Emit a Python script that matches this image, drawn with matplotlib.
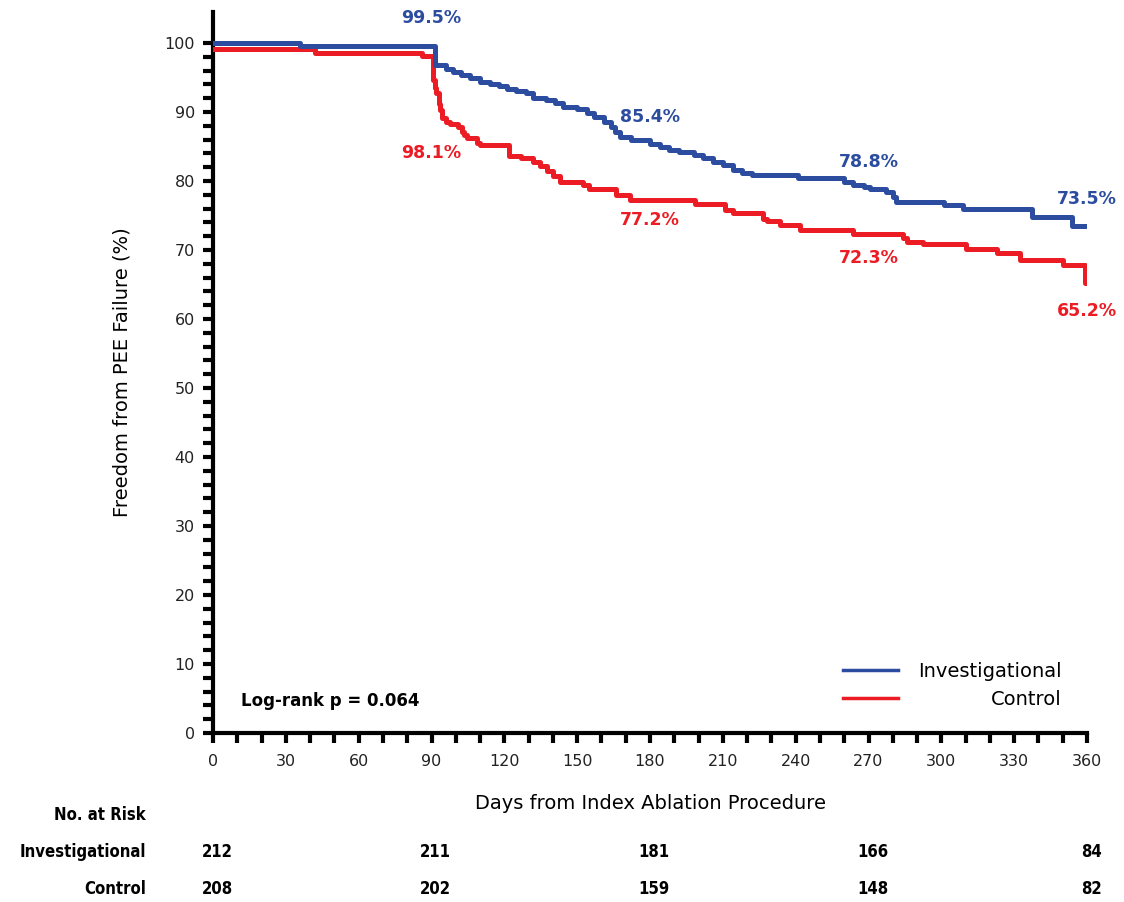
import matplotlib
matplotlib.use("agg")
import matplotlib.pyplot as plt
from matplotlib.ticker import MultipleLocator, FixedLocator

# Kaplan-Meier step data (day, % free from failure)
inv_days = [0, 36, 91.5, 96, 99, 102, 106, 110, 114, 118, 121, 125, 129, 132,
            137, 141, 144, 150, 154, 157, 161, 164, 165.5, 167.5, 172, 180,
            184, 188, 192, 198, 202, 206, 210, 214, 218, 222, 241, 260, 263.5,
            268, 270.5, 277, 280, 281.5, 301, 309, 337.5, 354, 360]
inv_surv = [100, 99.5, 96.8, 96.3, 95.8, 95.4, 94.9, 94.4, 94.1, 93.8, 93.4,
            93.1, 92.7, 92.1, 91.8, 91.3, 90.8, 90.5, 89.9, 89.3, 88.6, 87.9,
            87.1, 86.4, 86.0, 85.4, 85.0, 84.5, 84.2, 83.8, 83.3, 82.8, 82.3,
            81.6, 81.2, 80.9, 80.4, 79.9, 79.4, 79.2, 78.8, 78.4, 77.7, 77.0,
            76.5, 76.0, 74.8, 73.5, 73.5]

ctl_days = [0, 42, 86, 90.7, 91.5, 92, 93, 93.5, 94.2, 96, 97.6, 101, 102.4,
            103.5, 104.5, 108.6, 110, 122, 127, 132, 134.7, 137.4, 140.2, 143,
            152.5, 155, 166, 171.7, 198.5, 211, 214, 226.5, 228, 233.5, 241.8,
            263.7, 284.3, 285.7, 292.5, 310, 322.8, 332.4, 350.2, 359.2, 360]
ctl_surv = [99.1, 98.6, 98.1, 94.6, 93.5, 92.7, 91.2, 90.3, 89.1, 88.6, 88.2,
            87.9, 87.1, 86.6, 86.2, 85.5, 85.2, 83.6, 83.3, 82.8, 82.2, 81.5,
            80.8, 79.9, 79.4, 78.8, 78.0, 77.2, 76.7, 75.8, 75.3, 74.5, 74.2,
            73.6, 72.9, 72.3, 71.8, 71.2, 70.9, 70.2, 69.5, 68.6, 67.8, 65.2,
            65.2]

# annotated estimates at the landmark days
landmark_days = [90, 180, 270, 360]
inv_est = ["99.5%", "85.4%", "78.8%", "73.5%"]
ctl_est = ["98.1%", "77.2%", "72.3%", "65.2%"]
inv_lbl_y = [103.6, 89.3, 82.8, 77.4]
ctl_lbl_y = [84.1, 74.3, 68.8, 61.2]

# number at risk
risk_days = [0, 90, 180, 270, 360]
inv_risk = [212, 211, 181, 166, 84]
ctl_risk = [208, 202, 159, 148, 82]

blue = "#2b4c9f"
red = "#ec1c24"

fig = plt.figure(figsize=(11.24, 9.02), dpi=100)
ax = fig.add_axes([0.1895, 0.1874, 0.7776, 0.7993])

ax.step(inv_days, inv_surv, where="post", color=blue, lw=3.6, zorder=4)
ax.step(ctl_days, ctl_surv, where="post", color=red, lw=3.6, zorder=3)

for d, s, y in zip(landmark_days, inv_est, inv_lbl_y):
    ax.text(d, y, s, color=blue, fontsize=12.5, fontweight="bold",
            ha="center", va="center", clip_on=False)
for d, s, y in zip(landmark_days, ctl_est, ctl_lbl_y):
    ax.text(d, y, s, color=red, fontsize=12.5, fontweight="bold",
            ha="center", va="center", clip_on=False)

ax.set_xlim(0, 360)
ax.set_ylim(0, 104.5)
ax.xaxis.set_major_locator(MultipleLocator(30))
ax.xaxis.set_minor_locator(MultipleLocator(10))
ax.yaxis.set_major_locator(FixedLocator(range(0, 101, 10)))
ax.yaxis.set_minor_locator(FixedLocator(range(0, 101, 2)))

for side in ["top", "right"]:
    ax.spines[side].set_visible(False)
for side in ["left", "bottom"]:
    ax.spines[side].set_linewidth(3)
ax.tick_params(which="both", direction="out", length=7, width=3,
               labelsize=11.5, colors="black", pad=6)
ax.tick_params(axis="y", which="major", labelcolor="#222222")
ax.tick_params(axis="x", which="major", labelcolor="#222222", pad=8)

ax.set_ylabel("Freedom from PEE Failure (%)", fontsize=14, labelpad=24)
ax.set_xlabel("Days from Index Ablation Procedure", fontsize=14, labelpad=18)

ax.text(0.032, 0.044, "Log-rank p = 0.064", transform=ax.transAxes,
        fontsize=12, fontweight="bold", ha="left", va="center")

# legend: lines on the left, labels right-aligned
ax.plot([0.721, 0.784], [0.0874, 0.0874], transform=ax.transAxes,
        color=blue, lw=2.5, clip_on=False)
ax.plot([0.721, 0.784], [0.0485, 0.0485], transform=ax.transAxes,
        color=red, lw=2.5, clip_on=False)
ax.text(0.971, 0.085, "Investigational", transform=ax.transAxes,
        fontsize=14, ha="right", va="center")
ax.text(0.971, 0.046, "Control", transform=ax.transAxes,
        fontsize=14, ha="right", va="center")

# number at risk table
tfont = dict(fontsize=12, fontweight="bold", family="DejaVu Sans",
             stretch="condensed")
rx = 146 / 1124
fig.text(rx, 1 - 815 / 902, "No. at Risk", ha="right", va="center", **tfont)
fig.text(rx, 1 - 852 / 902, "Investigational", ha="right", va="center", **tfont)
fig.text(rx, 1 - 889 / 902, "Control", ha="right", va="center", **tfont)
fig_w = fig.get_figwidth() * fig.dpi
for d, n in zip(risk_days, inv_risk):
    xf = (ax.transData.transform((d, 0))[0] + 4) / fig_w
    fig.text(xf, 1 - 852 / 902, str(n), ha="center", va="center", **tfont)
for d, n in zip(risk_days, ctl_risk):
    xf = (ax.transData.transform((d, 0))[0] + 4) / fig_w
    fig.text(xf, 1 - 889 / 902, str(n), ha="center", va="center", **tfont)

fig.savefig("out.png", dpi=100)
plt.close(fig)
